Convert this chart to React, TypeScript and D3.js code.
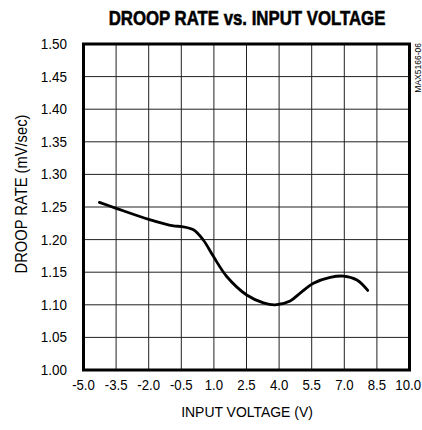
import React from "react";
import * as d3 from "d3";

const xTicks = [-5.0, -3.5, -2.0, -0.5, 1.0, 2.5, 4.0, 5.5, 7.0, 8.5, 10.0];
const yTicks = [1.0, 1.05, 1.1, 1.15, 1.2, 1.25, 1.3, 1.35, 1.4, 1.45, 1.5];
const voltage = [-4.27, -3.5, -2.0, -0.86, -0.48, 0.06, 0.52, 0.98, 1.6, 2.51, 3.28, 3.82, 4.51, 4.97, 5.58, 6.35, 6.96, 7.58, 8.08];
const droop = [1.257, 1.248, 1.231, 1.221, 1.22, 1.215, 1.199, 1.174, 1.143, 1.115, 1.103, 1.1, 1.106, 1.118, 1.133, 1.142, 1.144, 1.138, 1.122];

const W = 422, H = 430;
const L = 83.5, R = 409.5, T = 44, B = 370;
const font = "'Liberation Sans', Arial, sans-serif";

export default function App() {
  const x = d3.scaleLinear().domain([-5, 10]).range([L, R]);
  const y = d3.scaleLinear().domain([1.0, 1.5]).range([B, T]);
  const line = d3.line<number>().x((_, i) => x(voltage[i])).y((d) => y(d)).curve(d3.curveCatmullRom);
  return (
    <svg width={W} height={H} style={{ position: "absolute", left: 0, top: 0, background: "#fff" }}>
      <g transform="translate(247,25) scale(0.8,1)">
        <text x={0} y={0} textAnchor="middle" fontFamily={font} fontWeight="bold" fontSize={21} stroke="#000" strokeWidth={0.6}>DROOP RATE vs. INPUT VOLTAGE</text>
      </g>
      {xTicks.map((t) => (
        <line key={"gx" + t} x1={x(t)} x2={x(t)} y1={T} y2={B} stroke="#222" strokeWidth={1} />
      ))}
      {yTicks.map((t) => (
        <line key={"gy" + t} x1={L} x2={R} y1={y(t)} y2={y(t)} stroke="#222" strokeWidth={1} />
      ))}
      <rect x={L} y={T} width={R - L} height={B - T} fill="none" stroke="#000" strokeWidth={3} />
      <path d={line(droop) || ""} fill="none" stroke="#000" strokeWidth={2.8} strokeLinecap="round" strokeLinejoin="round" />
      {yTicks.map((t) => (
        <g key={"ty" + t} transform={`translate(67,${y(t) + 5}) scale(0.9,1)`}>
          <text x={0} y={0} textAnchor="end" fontFamily={font} fontSize={15}>{t.toFixed(2)}</text>
        </g>
      ))}
      {xTicks.map((t) => {
        const last = x(t) + 14 > W;
        return (
          <g key={"tx" + t} transform={`translate(${last ? W - 1 : x(t)},389.5) scale(0.88,1)`}>
            <text x={0} y={0} textAnchor={last ? "end" : "middle"} fontFamily={font} fontSize={15}>{t.toFixed(1)}</text>
          </g>
        );
      })}
      <g transform="translate(247,417) scale(0.9,1)">
        <text x={0} y={0} textAnchor="middle" fontFamily={font} fontSize={15.5}>INPUT VOLTAGE (V)</text>
      </g>
      <g transform="translate(27,194) rotate(-90) scale(0.92,1)">
        <text x={0} y={0} textAnchor="middle" fontFamily={font} fontSize={16}>DROOP RATE (mV/sec)</text>
      </g>
      <text transform={`translate(420.5,43) rotate(-90)`} textAnchor="end" fontFamily={font} fontSize={8.5}>MAX5166-06</text>
    </svg>
  );
}
